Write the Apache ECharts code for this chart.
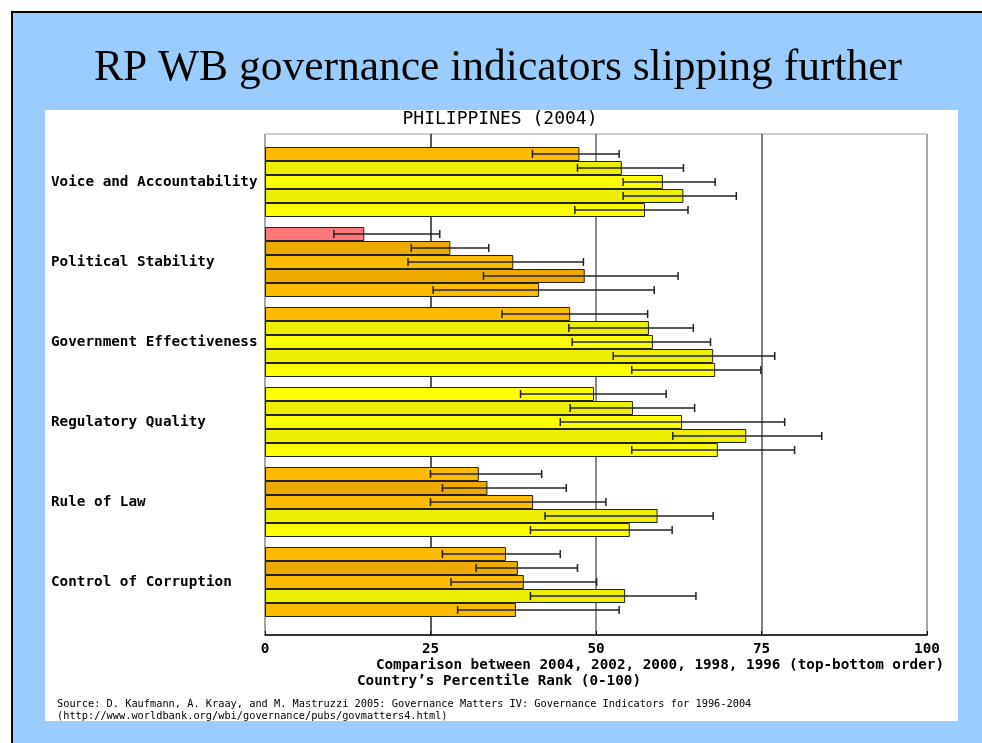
<!DOCTYPE html>
<html>
<head>
<meta charset="utf-8">
<script src="https://cdn.jsdelivr.net/npm/echarts@6/dist/echarts.min.js"></script>
<style>
  html, body { margin: 0; padding: 0; background: #fff; }
  #main { width: 982px; height: 743px; }
</style>
</head>
<body>
<div id="main"></div>
<script>
  // categories top to bottom
  const categories = [
    'Voice and Accountability',
    'Political Stability',
    'Government Effectiveness',
    'Regulatory Quality',
    'Rule of Law',
    'Control of Corruption',
  ];
  // years, top-bottom order inside each group
  const years = ['2004', '2002', '2000', '1998', '1996'];

  // percentile rank per year (one value per category)
  const rank2004 = [47.5, 15.0, 46.1, 49.7, 32.3, 36.4];
  const rank2002 = [53.9, 28.0, 58.0, 55.6, 33.6, 38.2];
  const rank2000 = [60.1, 37.5, 58.6, 63.0, 40.5, 39.1];
  const rank1998 = [63.2, 48.3, 67.7, 72.7, 59.3, 54.4];
  const rank1996 = [57.4, 41.4, 68.0, 68.4, 55.1, 37.9];

  // error bar bounds
  const low2004 = [40.4, 10.4, 35.8, 38.6, 25.0, 26.8];
  const low2002 = [47.2, 22.1, 45.9, 46.1, 26.8, 31.9];
  const low2000 = [54.1, 21.6, 46.4, 44.6, 25.0, 28.1];
  const low1998 = [54.1, 33.0, 52.6, 61.6, 42.3, 40.1];
  const low1996 = [46.8, 25.4, 55.4, 55.4, 40.1, 29.1];
  const high2004 = [53.5, 26.4, 57.8, 60.6, 41.8, 44.6];
  const high2002 = [63.2, 33.8, 64.7, 64.9, 45.5, 47.2];
  const high2000 = [68.0, 48.1, 67.3, 78.5, 51.5, 50.1];
  const high1998 = [71.2, 62.4, 77.0, 84.1, 67.7, 65.1];
  const high1996 = [63.9, 58.8, 74.9, 80.0, 61.5, 53.5];

  const xTicks = [0, 25, 50, 75, 100];

  const ranks = [rank2004, rank2002, rank2000, rank1998, rank1996];
  const lows = [low2004, low2002, low2000, low1998, low1996];
  const highs = [high2004, high2002, high2000, high1998, high1996];

  const mono = '"DejaVu Sans Mono", monospace';
  const BAR_H = 14;

  // colour by rank band, alternate rows a bit darker
  function barColor(v, k) {
    const dark = k % 2 === 1;
    if (v < 25) return dark ? '#EE6666' : '#FF7777';
    if (v < 49.5) return dark ? '#EEAA00' : '#FFBB00';
    return dark ? '#EEEE00' : '#FFFF00';
  }

  const barSeries = years.map((y, k) => ({
    name: y,
    type: 'bar',
    xAxisIndex: 1,
    yAxisIndex: 1,
    barWidth: BAR_H,
    barGap: '0%',
    data: ranks[k],
    z: 3,
    itemStyle: {
      color: (p) => barColor(p.value, k),
      borderColor: '#222',
      borderWidth: 1,
    },
  }));

  const errSeries = years.map((y, k) => ({
    name: 'err' + y,
    type: 'custom',
    xAxisIndex: 1,
    yAxisIndex: 1,
    z: 5,
    data: lows[k].map((lo, i) => [lo, highs[k][i], i]),
    renderItem: (params, api) => {
      const a = api.coord([api.value(0), api.value(2)]);
      const b = api.coord([api.value(1), api.value(2)]);
      const yc = a[1] + (k - 2) * BAR_H;
      const cap = 4;
      const style = { stroke: '#222', lineWidth: 1.5 };
      return {
        type: 'group',
        children: [
          { type: 'line', shape: { x1: a[0], y1: yc, x2: b[0], y2: yc }, style },
          { type: 'line', shape: { x1: a[0], y1: yc - cap, x2: a[0], y2: yc + cap }, style },
          { type: 'line', shape: { x1: b[0], y1: yc - cap, x2: b[0], y2: yc + cap }, style },
        ],
      };
    },
  }));

  const myChart = echarts.init(document.getElementById('main'));
  const option = {
    animation: false,
    graphic: [
      { type: 'rect', z: -10, silent: true, shape: { x: 0, y: 0, width: 982, height: 743 }, style: { fill: '#fff' } },
      { type: 'rect', z: -9, silent: true, shape: { x: 11, y: 11, width: 971, height: 732 }, style: { fill: '#000' } },
      { type: 'rect', z: -8, silent: true, shape: { x: 13, y: 13, width: 969, height: 730 }, style: { fill: '#99CCFF' } },
      { type: 'rect', z: -7, silent: true, shape: { x: 45, y: 110, width: 913, height: 611 }, style: { fill: '#fff' } },
      {
        type: 'text', z: 10, x: 498, y: 69,
        style: {
          text: 'RP WB governance indicators slipping further',
          font: '43.5px "Liberation Serif", "Times New Roman", serif',
          fill: '#000', align: 'center', verticalAlign: 'middle',
        },
      },
      {
        type: 'text', z: 10, x: 500, y: 119,
        style: { text: 'PHILIPPINES (2004)', font: '18px ' + mono, fill: '#000', align: 'center', verticalAlign: 'middle' },
      },
      {
        type: 'text', z: 10, x: 944, y: 665,
        style: {
          text: 'Comparison between 2004, 2002, 2000, 1998, 1996 (top-bottom order)',
          font: 'bold 14.3px ' + mono, fill: '#000', align: 'right', verticalAlign: 'middle',
        },
      },
      {
        type: 'text', z: 10, x: 499, y: 681,
        style: {
          text: 'Country\u2019s Percentile Rank (0-100)',
          font: 'bold 14.3px ' + mono, fill: '#000', align: 'center', verticalAlign: 'middle',
        },
      },
      {
        type: 'text', z: 10, x: 57, y: 704,
        style: {
          text: 'Source: D. Kaufmann, A. Kraay, and M. Mastruzzi 2005: Governance Matters IV: Governance Indicators for 1996-2004',
          font: '10.3px ' + mono, fill: '#000', align: 'left', verticalAlign: 'middle',
        },
      },
      {
        type: 'text', z: 10, x: 57, y: 716,
        style: {
          text: '(http://www.worldbank.org/wbi/governance/pubs/govmatters4.html)',
          font: '10.3px ' + mono, fill: '#000', align: 'left', verticalAlign: 'middle',
        },
      },
    ],
    grid: [
      { left: 265, top: 134, width: 662, height: 501, show: true, backgroundColor: '#fff', borderColor: '#999', borderWidth: 1 },
      { left: 265, top: 142, width: 662, height: 480 },
    ],
    xAxis: [
      {
        gridIndex: 0, type: 'value', min: 0, max: 100, interval: 25,
        axisLine: { show: true, lineStyle: { color: '#000', width: 1.5 } },
        axisTick: { show: true, inside: true, length: 4, lineStyle: { color: '#000' } },
        axisLabel: {
          margin: 7, color: '#000', fontFamily: mono, fontWeight: 'bold', fontSize: 14.3,
          formatter: (v) => (xTicks.includes(v) ? String(v) : ''),
        },
        splitLine: { show: true, lineStyle: { color: ['#999', '#222', '#666', '#555', '#999'], width: 1.5 } },
      },
      { gridIndex: 1, type: 'value', min: 0, max: 100, show: false },
    ],
    yAxis: [
      { gridIndex: 0, type: 'value', min: 0, max: 1, show: false },
      {
        gridIndex: 1, type: 'category', inverse: true, data: categories,
        axisLine: { show: false }, axisTick: { show: false },
        axisLabel: {
          align: 'left', margin: 214, color: '#000',
          fontFamily: mono, fontWeight: 'bold', fontSize: 14.3,
        },
      },
    ],
    series: [...barSeries, ...errSeries],
  };
  myChart.setOption(option);
</script>
</body>
</html>
